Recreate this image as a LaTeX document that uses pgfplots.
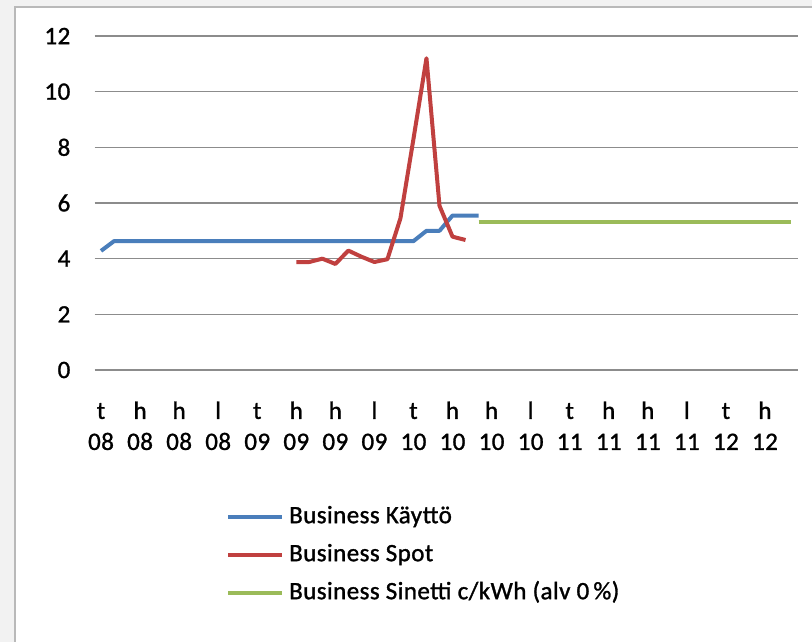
\documentclass[border=0pt]{standalone}
\usepackage{fontspec}
\setmainfont{Carlito}[UprightFeatures={FakeBold=1.2}, LetterSpace=1.8]
\usepackage{pgfplots}
\pgfplotsset{compat=1.18}
\definecolor{sblue}{HTML}{4A7EBB}
\definecolor{sred}{HTML}{C0403F}
\definecolor{sgreen}{HTML}{9BBB59}
\definecolor{gridgray}{HTML}{8C8C8C}
\newcommand{\tl}[2]{\strut #1\\#2}
\begin{document}
\begin{tikzpicture}[x=1pt,y=1pt]
\useasboundingbox (0,0) rectangle (812,642);
\fill[gray!10] (0,0) rectangle (812,642);
\fill[white] (15,0) rectangle (812,635);
\draw[gray!55, line width=1.2pt] (15,0) -- (15,635) -- (812,635);
\begin{axis}[
  at={(94.5pt,272pt)}, anchor=south west,
  scale only axis, width=703pt, height=334pt,
  xmin=-0.5, xmax=53.5, ymin=0, ymax=12,
  ytick={0,2,...,12},
  xtick={0,3,...,51},
  xticklabels={{\tl{t}{08}},{\tl{h}{08}},{\tl{h}{08}},{\tl{l}{08}},
               {\tl{t}{09}},{\tl{h}{09}},{\tl{h}{09}},{\tl{l}{09}},
               {\tl{t}{10}},{\tl{h}{10}},{\tl{h}{10}},{\tl{l}{10}},
               {\tl{t}{11}},{\tl{h}{11}},{\tl{h}{11}},{\tl{l}{11}},
               {\tl{t}{12}},{\tl{h}{12}}},
  axis line style={draw=none},
  major tick length=0pt,
  ymajorgrids,
  grid style={gridgray, line width=1.5pt},
  /pgf/number format/assume math mode=true,
  tick label style={font=\fontsize{25}{31}\selectfont},
  yticklabel style={inner sep=0pt, anchor=east, xshift=-24pt},
  xticklabel style={inner sep=0pt, anchor=north, align=center, yshift=-27pt},
  legend style={at={(0.1870,-0.4042)}, anchor=north west, draw=none, fill=none,
    inner sep=0pt, row sep=14pt, column sep=5pt,
    font=\fontsize{25}{32}\selectfont,
    nodes={inner sep=0pt, text height=18pt, text depth=6pt}},
  legend cell align=left,
  legend image code/.code={\draw[#1] (0pt,0pt) -- (54pt,0pt);},
  clip=false,
]
\addplot[sblue, line width=4pt, line join=round] coordinates {
(0,4.28)(1,4.63)(2,4.63)(3,4.63)(4,4.63)(5,4.63)(6,4.63)(7,4.63)(8,4.63)(9,4.63)
(10,4.63)(11,4.63)(12,4.63)(13,4.63)(14,4.63)(15,4.63)(16,4.63)(17,4.63)(18,4.63)(19,4.63)
(20,4.63)(21,4.63)(22,4.63)(23,4.63)(24,4.63)(25,5.0)(26,5.0)(27,5.55)(28,5.55)(29,5.55)};
\addlegendentry{Business Käyttö}
\addplot[sred, line width=4pt, line join=round] coordinates {
(15,3.88)(16,3.88)(17,4.0)(18,3.81)(19,4.29)(20,4.07)(21,3.88)(22,3.98)
(23,5.45)(24,8.3)(25,11.2)(26,5.9)(27,4.79)(28,4.67)};
\addlegendentry{Business Spot}
\addplot[sgreen, line width=4pt, line join=round] coordinates {
(29,5.32)(30,5.32)(31,5.32)(32,5.32)(33,5.32)(34,5.32)(35,5.32)(36,5.32)(37,5.32)(38,5.32)
(39,5.32)(40,5.32)(41,5.32)(42,5.32)(43,5.32)(44,5.32)(45,5.32)(46,5.32)(47,5.32)(48,5.32)
(49,5.32)(50,5.32)(51,5.32)(52,5.32)(53,5.32)};
\addlegendentry{Business Sinetti c/kWh (alv 0\,\%)}
\end{axis}
\end{tikzpicture}
\end{document}
